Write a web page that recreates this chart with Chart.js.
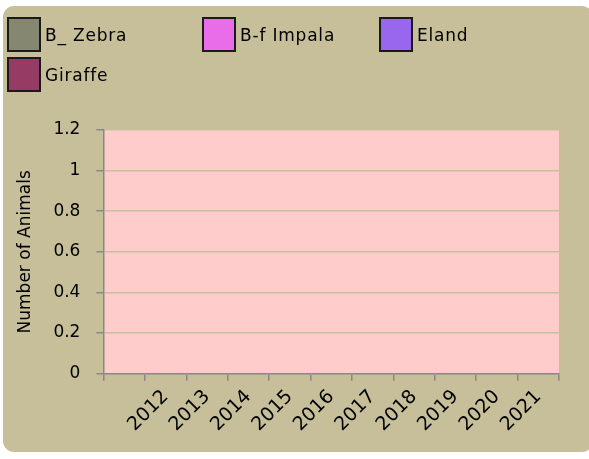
<!DOCTYPE html>
<html>
<head>
<meta charset="utf-8">
<script src="https://cdn.jsdelivr.net/npm/chart.js@4"></script>
<style>
  html, body { margin:0; padding:0; background:#ffffff; }
  body { width:589px; height:459px; position:relative; overflow:hidden; font-family: "DejaVu Sans", sans-serif; }
  #card { position:absolute; left:3px; top:6px; width:590px; height:446px; background:#c6bf99; border-radius:11px; }
  #wrap { position:absolute; left:0; top:0; width:589px; height:459px; }
  #legend { position:absolute; left:7px; top:17px; display:grid; grid-template-columns:195px 177px auto; row-gap:5px; }
  .item { display:flex; align-items:center; height:35px; }
  .box { width:34px; height:35px; box-sizing:border-box; border:2px solid #1a1a1a; margin-right:4px; }
  .lbl { font-size:17px; color:#000; white-space:pre; letter-spacing:0.8px; }
</style>
</head>
<body>
<div id="card"></div>
<div id="wrap"><canvas id="c" width="589" height="459"></canvas></div>
<div id="legend"></div>
<script>
const categories = ["", "2012", "2013", "2014", "2015", "2016", "2017", "2018", "2019", "2020", "2021"];
const seriesNames = ["B_ Zebra", "B-f Impala", "Eland", "Giraffe"];
const zebra   = [0, 0, 0, 0, 0, 0, 0, 0, 0, 0, 0];
const impala  = [0, 0, 0, 0, 0, 0, 0, 0, 0, 0, 0];
const eland   = [0, 0, 0, 0, 0, 0, 0, 0, 0, 0, 0];
const giraffe = [0, 0, 0, 0, 0, 0, 0, 0, 0, 0, 0];
const yTicks  = [0, 0.2, 0.4, 0.6, 0.8, 1, 1.2];
const colors  = ["#868770", "#e96de9", "#9966ee", "#963c64"];
const seriesValues = [zebra, impala, eland, giraffe];

const legend = document.getElementById('legend');
seriesNames.forEach((n, i) => {
  const it = document.createElement('div'); it.className = 'item';
  const b = document.createElement('div'); b.className = 'box'; b.style.background = colors[i];
  const t = document.createElement('span'); t.className = 'lbl'; t.textContent = n;
  it.appendChild(b); it.appendChild(t); legend.appendChild(it);
});

const plotBg = {
  id: 'plotBg',
  beforeDraw(chart) {
    const {ctx, chartArea: a} = chart;
    ctx.save(); ctx.fillStyle = '#ffcccc';
    ctx.fillRect(a.left, a.top, a.right - a.left, a.bottom - a.top);
    ctx.restore();
  }
};

const FONT = 'DejaVu Sans';
new Chart(document.getElementById('c'), {
  type: 'bar',
  data: {
    labels: categories,
    datasets: seriesNames.map((n, i) => ({
      label: n, data: seriesValues[i], backgroundColor: colors[i], borderWidth: 0
    }))
  },
  options: {
    responsive: false, animation: false,
    layout: { padding: { top: 130, left: 15, right: 30, bottom: 18 } },
    plugins: { legend: { display: false }, tooltip: { enabled: false } },
    scales: {
      x: {
        grid: { offset: true, drawOnChartArea: false, color: '#888888', tickLength: 7, lineWidth: 1.5 },
        border: { color: '#888888', width: 1.5 },
        ticks: { color: '#000', font: { family: FONT, size: 19 }, maxRotation: 45, minRotation: 45, padding: 5 }
      },
      y: {
        min: 0, max: 1.2,
        afterBuildTicks(axis) { axis.ticks = yTicks.map(v => ({ value: v })); },
        grid: { color: '#c8c09a', lineWidth: 1.5, tickColor: '#888888', tickLength: 7 },
        border: { color: '#888888', width: 1.5 },
        ticks: { color: '#000', font: { family: FONT, size: 17 }, padding: 16,
                 callback: v => String(Math.round(v * 10) / 10) },
        title: { display: true, text: 'Number of Animals', color: '#000', font: { family: FONT, size: 17 }, padding: { top: 0, bottom: 2 } }
      }
    }
  },
  plugins: [plotBg]
});
</script>
</body>
</html>
